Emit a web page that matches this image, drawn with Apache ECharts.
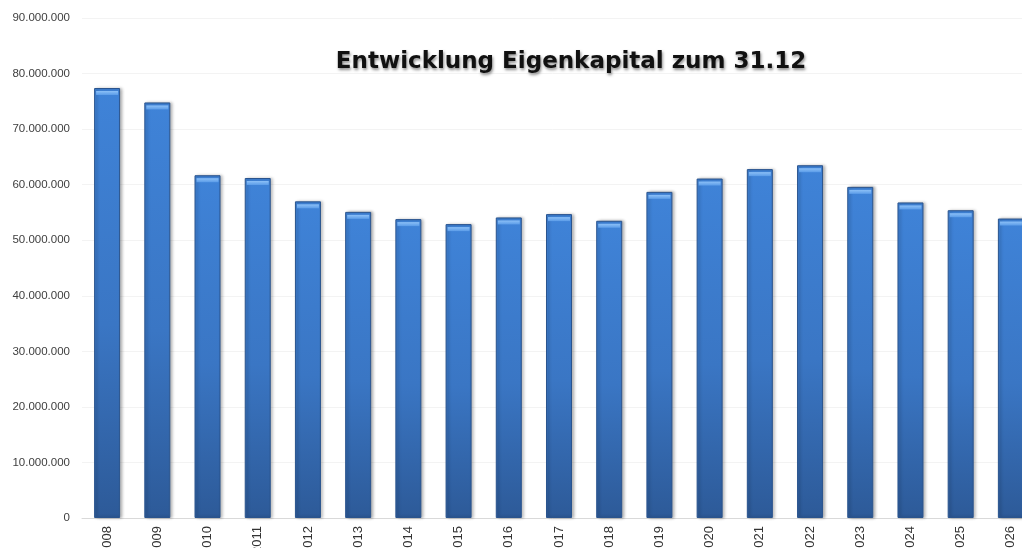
<!DOCTYPE html>
<html>
<head>
    <meta charset="UTF-8">
    <title>Entwicklung Eigenkapital</title>
    <script src="https://cdn.jsdelivr.net/npm/echarts@6/dist/echarts.min.js"></script>
    <style>
        html, body { margin: 0; padding: 0; background: #fff; }
        #chart { width: 1022px; height: 548px; }
    </style>
</head>
<body>
<div id="chart"></div>
<script>
    // Jahre und Eigenkapital
    var years = ['2008', '2009', '2010', '2011', '2012', '2013', '2014', '2015', '2016', '2017',
                 '2018', '2019', '2020', '2021', '2022', '2023', '2024', '2025', '2026'];
    var equity = [77400000, 74800000, 61700000, 61200000, 57000000, 55100000, 53800000, 52900000, 54100000, 54700000,
                  53500000, 58700000, 61100000, 62800000, 63500000, 59600000, 56800000, 55400000, 53900000];
    var titleText = 'Entwicklung Eigenkapital zum 31.12';

    // 10000000 -> 10.000.000
    function fmt(v) {
        return String(v).replace(/\B(?=(\d{3})+(?!\d))/g, '.');
    }

    var myChart = echarts.init(document.getElementById('chart'));
    var option = {
        backgroundColor: '#ffffff',
        animation: false,
        title: {
            text: titleText,
            left: 566,
            top: 46,
            textAlign: 'center',
            textStyle: {
                fontFamily: 'DejaVu Sans',
                fontWeight: 'bold',
                fontSize: 23,
                color: '#111',
                textShadowColor: 'rgba(0,0,0,0.45)',
                textShadowBlur: 3,
                textShadowOffsetX: 1,
                textShadowOffsetY: 2
            }
        },
        // Diagramm ragt rechts ueber den Rand hinaus wie im Original
        grid: { left: 82, width: 954, top: 18, bottom: 30, outerBoundsMode: 'none', containLabel: false },
        xAxis: {
            type: 'category',
            data: years,
            axisLine: { lineStyle: { color: '#d9d9d9' } },
            axisTick: { show: false },
            axisLabel: {
                rotate: 90,
                interval: 0,
                margin: 8,
                color: '#333',
                fontFamily: 'Liberation Sans',
                fontSize: 13
            }
        },
        yAxis: {
            type: 'value',
            min: 0,
            max: 90000000,
            interval: 10000000,
            axisLine: { show: false },
            axisTick: { show: false },
            splitLine: { lineStyle: { color: '#f3f3f3' } },
            axisLabel: {
                color: '#404040',
                fontFamily: 'Liberation Sans',
                fontSize: 11.5,
                margin: 12,
                formatter: fmt
            }
        },
        series: [{
            name: 'Eigenkapital',
            type: 'bar',
            data: equity,
            barWidth: 26,
            itemStyle: {
                color: new echarts.graphic.LinearGradient(0, 0, 0, 1, [
                    { offset: 0, color: '#3f83d8' },
                    { offset: 0.55, color: '#3a76c4' },
                    { offset: 1, color: '#2d5a98' }
                ]),
                borderColor: '#2a548e',
                borderWidth: 1,
                shadowColor: 'rgba(0,0,0,0.3)',
                shadowBlur: 3,
                shadowOffsetX: 2,
                shadowOffsetY: 0
            }
        }, {
            // heller Rand oben am Balken
            name: 'Kante',
            type: 'pictorialBar',
            data: equity,
            symbol: 'rect',
            symbolSize: [22, 4],
            symbolPosition: 'end',
            symbolOffset: [0, 3],
            z: 3,
            itemStyle: {
                color: new echarts.graphic.LinearGradient(0, 0, 0, 1, [
                    { offset: 0, color: '#8cc0f7' },
                    { offset: 1, color: '#5b9ce8' }
                ])
            },
            silent: true
        }]
    };
    myChart.setOption(option);
</script>
</body>
</html>
